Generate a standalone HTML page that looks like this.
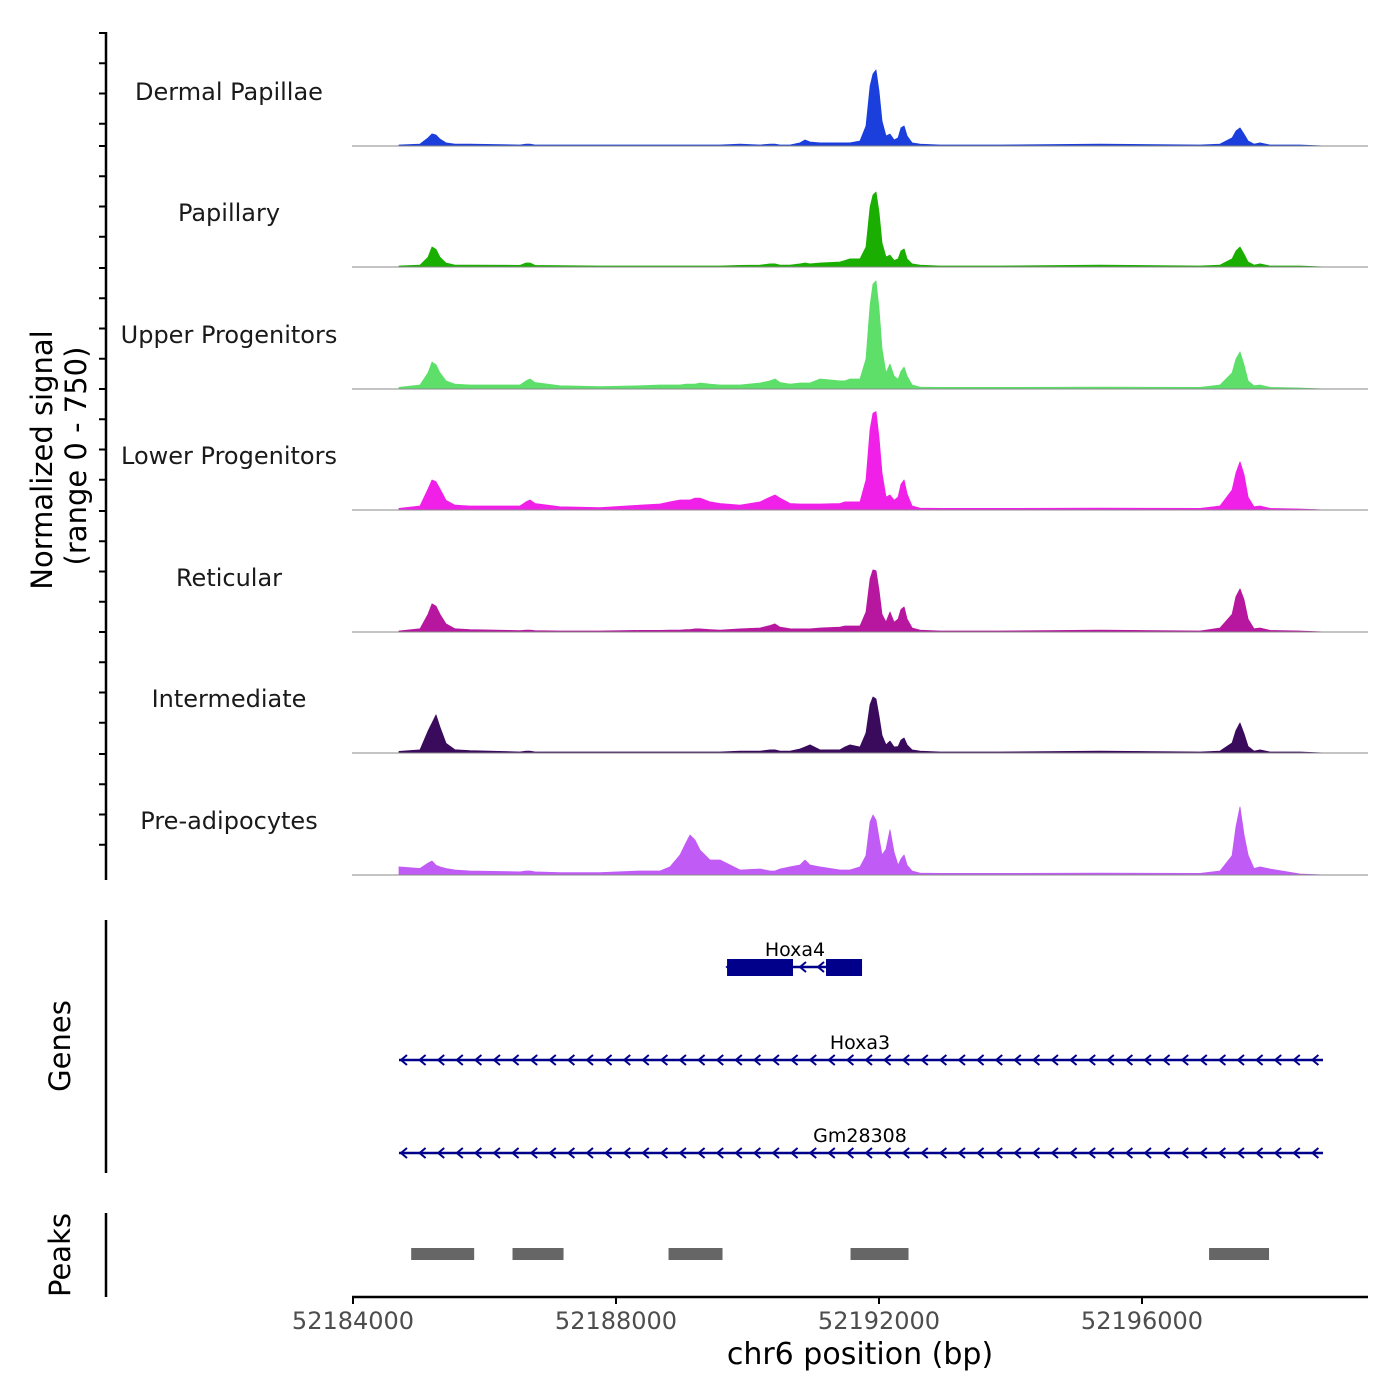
<!DOCTYPE html>
<html><head><meta charset="utf-8"><style>
body{margin:0;background:#fff}
svg{display:block;font-family:"DejaVu Sans","Liberation Sans",sans-serif}
</style></head><body>
<svg id="c" width="1400" height="1400" viewBox="0 0 1400 1400" xmlns="http://www.w3.org/2000/svg"></svg>
<script>
const trackNames=["Dermal Papillae","Papillary","Upper Progenitors","Lower Progenitors","Reticular","Intermediate","Pre-adipocytes"];
const trackColors=["#1a3fdc","#1aae00","#5ddf6a","#f020e8","#b7169f","#3a0a5c","#c05cf5"];
const positions=[52184700,52185019,52185141,52185202,52185262,52185323,52185414,52185551,52185780,52186540,52186631,52186692,52186768,52187148,52187757,52188365,52188669,52188822,52188974,52189065,52189126,52189202,52189278,52189430,52189582,52189886,52190191,52190343,52190419,52190495,52190647,52190799,52190875,52190951,52191103,52191407,52191483,52191559,52191711,52191803,52191864,52191909,52191955,52192000,52192046,52192107,52192168,52192229,52192290,52192335,52192381,52192427,52192503,52192624,52192929,52193841,52195362,52196883,52197187,52197370,52197430,52197491,52197552,52197613,52197704,52197795,52197947,52198403,52198784];
const dermal=[6,12,50,75,68,43,19,12,12,6,12,12,6,6,6,6,6,6,6,6,6,6,6,6,6,12,6,12,12,6,6,19,37,25,19,19,19,19,31,124,372,446,471,341,155,62,74,37,50,112,124,62,19,12,6,6,12,6,12,50,93,112,74,31,12,19,6,6,0];
const papillary=[6,12,60,124,110,60,25,12,12,10,25,25,10,8,6,6,6,6,6,6,6,6,6,6,6,10,12,19,19,12,12,19,25,19,25,31,40,50,50,124,372,446,465,340,150,62,74,40,50,100,112,50,19,12,6,6,12,6,12,50,100,124,80,31,12,19,6,6,0];
const upper=[10,25,100,167,150,100,50,30,25,25,50,62,40,20,15,20,25,25,25,30,30,30,37,30,25,25,37,50,62,40,30,37,37,37,62,50,50,62,62,186,520,650,670,500,250,100,155,80,60,110,136,80,25,12,10,10,12,10,25,100,186,230,150,50,20,25,10,6,0];
const lower=[10,25,130,186,175,130,60,30,25,25,50,62,40,20,15,30,37,50,62,62,62,74,74,50,40,30,50,80,93,74,40,37,37,37,37,40,50,50,50,186,500,600,610,450,230,80,93,60,80,160,186,100,25,12,10,10,12,10,25,124,230,298,220,80,20,25,10,6,0];
const reticular=[6,20,110,174,160,110,50,20,15,8,12,12,8,6,6,10,10,12,12,15,15,19,19,15,12,19,25,40,50,30,20,19,19,19,25,30,37,37,37,124,330,385,380,260,110,62,124,60,80,140,155,80,25,12,6,6,12,6,25,110,220,267,200,80,20,25,10,6,0];
const intermediate=[10,19,136,186,236,160,60,20,15,6,12,12,6,6,6,6,6,6,6,6,6,6,6,6,6,12,12,19,19,12,12,25,37,50,19,19,37,50,37,124,300,347,335,230,110,50,74,37,40,80,93,50,19,12,6,6,12,6,12,62,140,186,120,40,12,19,6,6,0];
const preadip=[50,40,74,87,60,50,40,31,25,19,25,25,19,15,15,25,25,50,124,200,248,217,155,93,93,31,37,25,25,37,50,62,93,62,50,31,31,31,50,120,330,372,340,230,124,160,280,140,60,100,124,60,25,12,10,10,12,10,25,120,300,422,250,124,40,50,37,6,0];
const trackValues=[dermal,papillary,upper,lower,reticular,intermediate,preadip];
const xTicks=[52184000,52188000,52192000,52196000];
const peakStarts=[52184885,52186426,52188799,52191567,52197020];
const peakEnds=[52185843,52187202,52189620,52192449,52197932];
const exonStarts=[52189689,52191194];
const exonEnds=[52190692,52191742];

const NS="http://www.w3.org/2000/svg";
const svg=document.getElementById('c');
const X0=52184000,PX0=353,PXPERBP=263/4000;
const xs=bp=>PX0+(bp-X0)*PXPERBP;
const baselines=[146,267,389,510,632,753,875];
const ys=(v,i)=>baselines[i]-v*121/750;
function el(tag,attrs,parent){const e=document.createElementNS(NS,tag);for(const k in attrs)e.setAttribute(k,attrs[k]);(parent||svg).appendChild(e);return e;}
function txt(s,attrs,parent){const t=el('text',attrs,parent);t.textContent=s;return t;}

trackNames.forEach((n,i)=>{
  const g=el('g',{});
  
  
  let d='M'+xs(positions[0])+','+baselines[i];
  positions.forEach((p,j)=>{d+=' L'+xs(p).toFixed(1)+','+ys(trackValues[i][j],i).toFixed(1);});
  d+=' L'+xs(positions[positions.length-1])+','+baselines[i]+'Z';
  const a=el('path',{d:d,fill:trackColors[i],stroke:trackColors[i],'stroke-width':0.8,'stroke-linejoin':'round'},g);
  
  
  const b=el('line',{x1:352,x2:1368,y1:baselines[i],y2:baselines[i],stroke:'#888','stroke-width':1},g);
  
  
  const t=txt(n,{x:229,y:baselines[i]-46,'text-anchor':'middle','font-size':24,fill:'#1a1a1a'},g);
  
  
});

const ax=el('line',{x1:106,x2:106,y1:32,y2:880,stroke:'#000','stroke-width':2.5});


for(let i=0;i<7;i++){for(let k=0;k<4;k++){const y=baselines[i]-121+k*30.25+(i==0?8:0);
 if(y<32)continue;
 const tk=el('line',{x1:99,x2:106,y1:y,y2:y,stroke:'#000','stroke-width':2});
 
 }}
const yl=txt('Normalized signal',{transform:'translate(52,460) rotate(-90)','text-anchor':'middle','font-size':29,fill:'#000'});


const yl2=txt('(range 0 - 750)',{transform:'translate(86,456) rotate(-90)','text-anchor':'middle','font-size':29,fill:'#000'});



const ga=el('line',{x1:106,x2:106,y1:920,y2:1173,stroke:'#000','stroke-width':2.5});


const gt=txt('Genes',{transform:'translate(70,1046) rotate(-90)','text-anchor':'middle','font-size':29});


const gc='#00008b';
function arrows(x1,x2,y,g){for(let x=x1+2;x<x2-8;x+=18.6){el('path',{d:`M${x+6},${y-5} L${x},${y} L${x+6},${y+5}`,fill:'none',stroke:gc,'stroke-width':2},g);}}
const h4=el('g',{});
el('line',{x1:xs(exonStarts[0]),x2:xs(exonEnds[1]),y1:967,y2:967,stroke:gc,'stroke-width':2.5},h4);
exonStarts.forEach((a,i)=>el('rect',{x:xs(a),y:959,width:xs(exonEnds[i])-xs(a),height:17,fill:gc},h4));
el('path',{d:'M733,962 L727,967 L733,972',fill:'none',stroke:gc,'stroke-width':2},h4);
el('path',{d:'M806,962 L800,967 L806,972 M824,962 L818,967 L824,972',fill:'none',stroke:gc,'stroke-width':2},h4);
txt('Hoxa4',{x:795,y:956,'text-anchor':'middle','font-size':19},h4);
[['Hoxa3',1060,'gene-hoxa3'],['Gm28308',1153,'gene-gm28308']].forEach(([n,y,dn])=>{
  const g=el('g',{});
  el('line',{x1:399,x2:1323,y1:y,y2:y,stroke:gc,'stroke-width':2.5},g);
  arrows(399,1323,y,g);
  txt(n,{x:860,y:y-11,'text-anchor':'middle','font-size':19},g);
});

const pa=el('line',{x1:106,x2:106,y1:1213,y2:1297,stroke:'#000','stroke-width':2.5});


const pt=txt('Peaks',{transform:'translate(70,1255) rotate(-90)','text-anchor':'middle','font-size':29});


peakStarts.forEach((s,i)=>{
  const r=el('rect',{x:xs(s),y:1248,width:xs(peakEnds[i])-xs(s),height:12,fill:'#666'});
  
  
});

const xa=el('line',{x1:352,x2:1368,y1:1297,y2:1297,stroke:'#000','stroke-width':2.5});


xTicks.forEach(t=>{
  const l=el('line',{x1:xs(t),x2:xs(t),y1:1297,y2:1304,stroke:'#000','stroke-width':2});
  
  
  const tl=txt(String(t),{x:xs(t),y:1329,'text-anchor':'middle','font-size':24,fill:'#4d4d4d'});
  
  
});
const xt=txt('chr6 position (bp)',{x:860,y:1364,'text-anchor':'middle','font-size':30});


</script>
</body></html>
